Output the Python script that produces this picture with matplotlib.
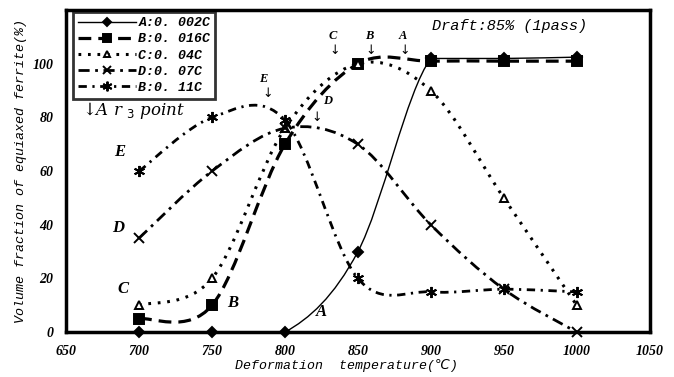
import numpy as np
import matplotlib
matplotlib.use('Agg')
import matplotlib.pyplot as plt
from matplotlib.path import Path
from matplotlib.patches import PathPatch
from matplotlib.lines import Line2D

# data
temps = [700, 750, 800, 850, 900, 950, 1000]
A_002C = [0, 0, 0, 30, 102, 102, 102.5]
B_016C = [5, 10, 70, 100, 101, 101, 101]
C_04C = [10, 20, 76, 100, 90, 50, 10]
D_07C = [35, 60, 76, 70, 40, 16, 0]
E_11C = [60, 80, 79, 20, 15, 16, 15]

legend_labels = ['A:0. 002C', 'B:0. 016C', 'C:0. 04C', 'D:0. 07C', 'B:0. 11C']
xticks = [650, 700, 750, 800, 850, 900, 950, 1000, 1050]
yticks = [0, 20, 40, 60, 80, 100]

serif = ['Liberation Serif', 'DejaVu Serif']
mono = ['Liberation Mono', 'DejaVu Sans Mono', 'DejaVu Sans']


def smooth_path(x, y, clamp=False):
    # excel style smoothed line: cubic bezier through every point
    p = np.column_stack([x, y]).astype(float)
    ext = np.vstack([p[0], p, p[-1]])
    verts = [p[0]]
    codes = [Path.MOVETO]
    for i in range(len(p) - 1):
        a, b = ext[i + 1], ext[i + 2]
        c1 = a + (b - ext[i]) / 6.0
        c2 = b - (ext[i + 3] - a) / 6.0
        if clamp:
            lo, hi = min(a[1], b[1]), max(a[1], b[1])
            c1[1] = np.clip(c1[1], lo, hi)
            c2[1] = np.clip(c2[1], lo, hi)
        verts += [c1, c2, b]
        codes += [Path.CURVE4] * 3
    return Path(verts, codes)


styles = [
    dict(ls='-', lw=1.0, marker='D', ms=5, mfc='black', clamp=True),
    dict(ls=(0, (4, 2.2)), lw=2.3, marker='s', ms=7, mfc='black', clamp=False),
    dict(ls=(0, (0.9, 2.2)), lw=2.2, marker='^', ms=6, mfc='white', clamp=False),
    dict(ls=(0, (4, 2, 1, 2)), lw=2.0, marker='x', ms=7, mfc='black', clamp=False),
    dict(ls=(0, (3, 2, 0.8, 2)), lw=2.0, marker=(6, 2, 0), ms=8, mfc='black', clamp=False),
]
series = [A_002C, B_016C, C_04C, D_07C, E_11C]

fig = plt.figure(figsize=(6.74, 3.77), dpi=100)
ax = fig.add_axes([0.098, 0.119, 0.866, 0.854])

handles = []
for vals, st, lab in zip(series, styles, legend_labels):
    patch = PathPatch(smooth_path(temps, vals, st['clamp']), fill=False, edgecolor='black',
                      lw=st['lw'], linestyle=st['ls'], zorder=2)
    ax.add_patch(patch)
    ax.plot(temps, vals, linestyle='none', marker=st['marker'], ms=st['ms'],
            mfc=st['mfc'], mec='black', mew=1.4, zorder=3, clip_on=False)
    handles.append(Line2D([], [], color='black', lw=st['lw'], linestyle=st['ls'],
                          marker=st['marker'], ms=st['ms'] - 1, mfc=st['mfc'],
                          mec='black', mew=1.4, label=lab))

ax.set_xlim(650, 1050)
ax.set_ylim(0, 120)
ax.set_xticks(xticks)
ax.set_yticks(yticks)
ax.tick_params(length=0, pad=9)
for t in ax.get_xticklabels() + ax.get_yticklabels():
    t.set_family(serif)
    t.set_fontstyle('italic')
    t.set_fontweight('bold')
    t.set_fontsize(10)
for s in ax.spines.values():
    s.set_linewidth(2.5)

ax.set_xlabel('Deformation  temperature(\u2103)', family=mono, style='italic',
              fontsize=9.5, labelpad=1, x=0.48)
ax.set_ylabel('Volume fraction of equiaxed ferrite(%)', family=mono, style='italic',
              fontsize=9.6, labelpad=4)

leg = ax.legend(handles=handles, loc='upper left', bbox_to_anchor=(0.012, 0.993),
                frameon=True, fancybox=False, handlelength=4.4, handletextpad=0.2,
                labelspacing=0.3, borderpad=0.35, borderaxespad=0,
                prop=dict(family=mono, style='italic', weight='bold', size=9.5))
leg.get_frame().set_edgecolor('black')
leg.get_frame().set_linewidth(2)

txt = dict(family=serif, style='italic', weight='bold', color='black')
ax.text(901, 114, 'Draft:85% (1pass)', ha='left', va='center', fontsize=11,
        family=mono, style='italic')
ax.text(661, 82.5, '\u2193A r $_3$ point', ha='left', va='center', fontsize=12,
        family=['DejaVu Serif'], style='italic')

for lab, xx in [('C', 833), ('B', 857.5), ('A', 881)]:
    ax.text(xx, 110.5, lab, ha='center', va='center', fontsize=9, **txt)
    ax.text(xx + 1, 105, '\u2193', ha='center', va='center', fontsize=9,
            family=['DejaVu Sans'])
ax.text(785, 94.5, 'E', ha='center', va='center', fontsize=9, **txt)
ax.text(788, 89, '\u2193', ha='center', va='center', fontsize=9, family=['DejaVu Sans'])
ax.text(829, 86, 'D', ha='center', va='center', fontsize=9, **txt)
ax.text(822, 80, '\u2193', ha='center', va='center', fontsize=9, family=['DejaVu Sans'])

for lab, xx, yy in [('E', 687, 67), ('D', 685.5, 39), ('C', 689, 16),
                    ('B', 764, 11), ('A', 825, 7.5)]:
    ax.text(xx, yy, lab, ha='center', va='center', fontsize=12, **txt)

fig.savefig('out.png', dpi=100)
